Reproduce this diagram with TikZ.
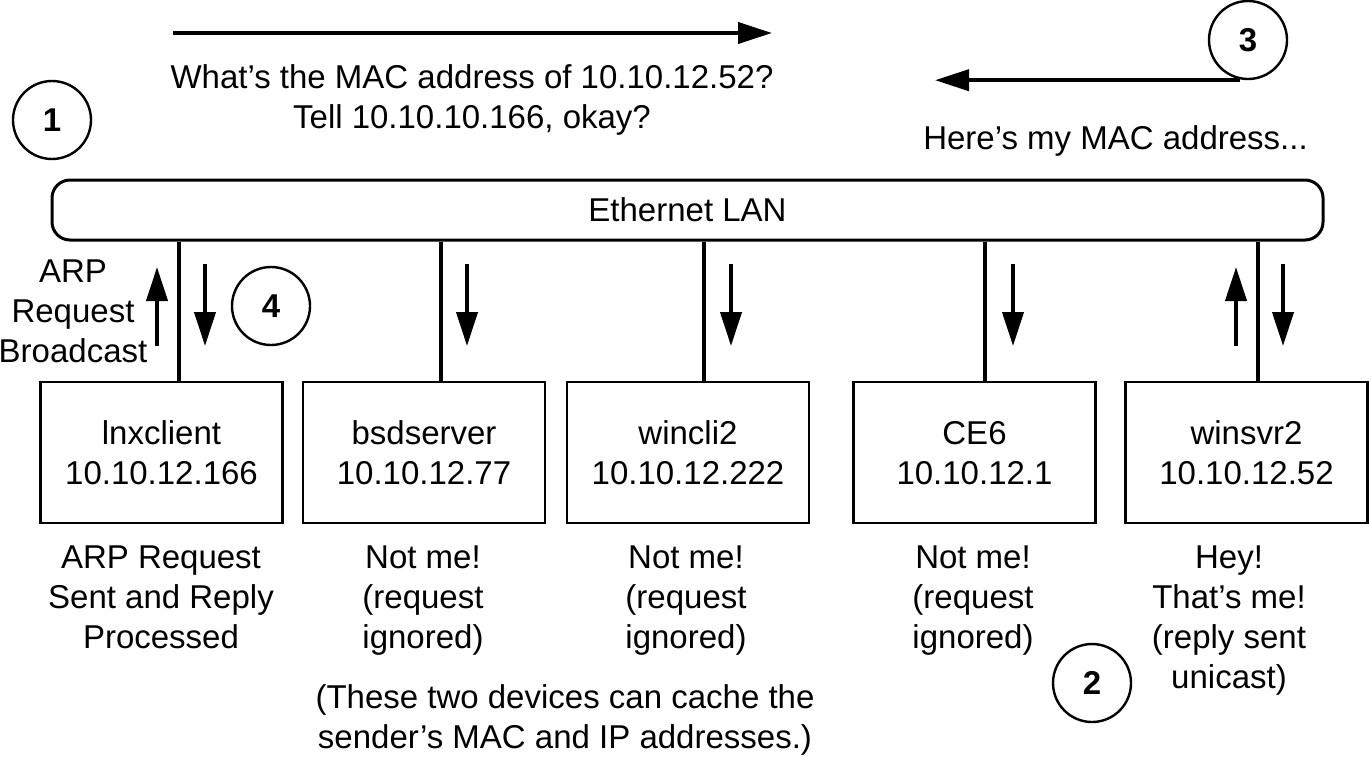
\documentclass[tikz,border=0pt]{standalone}
\usepackage{fontspec}
\setmainfont{Liberation Sans}
\usetikzlibrary{arrows.meta}
\newcommand{\tallstrut}{\rule{0pt}{18pt}}
\begin{document}
\begin{tikzpicture}[x=0.5pt,y=-0.5pt,
 txt/.style={font=\fontsize{16.5}{20}\selectfont, align=center, inner sep=0pt},
 num/.style={draw, circle, line width=1.2pt, minimum size=39pt, inner sep=0pt, font=\fontsize{16.5}{19}\selectfont\bfseries},
 host/.style={draw, line width=1.3pt, minimum width=121pt, minimum height=70.5pt, inner sep=0pt, txt},
 dropline/.style={line width=1.6pt},
 arr/.style={line width=2pt, -{Triangle[length=17pt,width=10.5pt]}},
]
\useasboundingbox (0,0) rectangle (1369,756);

% LAN
\node[draw, line width=1.5pt, rounded corners=9pt, minimum width=635.5pt, minimum height=30pt, txt] (lan) at (687.5,210) {Ethernet LAN};

% hosts
\node[host] (b1) at (161.5,452.5) {\tallstrut lnxclient\\\strut 10.10.12.166};
\node[host] (b2) at (424,452.5) {\tallstrut bsdserver\\\strut 10.10.12.77};
\node[host] (b3) at (688,452.5) {\tallstrut wincli2\\\strut 10.10.12.222};
\node[host] (b4) at (974.5,452.5) {\tallstrut CE6\\\strut 10.10.12.1};
\node[host] (b5) at (1246.5,452.5) {\tallstrut winsvr2\\\strut 10.10.12.52};

% drops
\coordinate (d1) at (179,0);
\coordinate (d2) at (441,0);
\coordinate (d3) at (704,0);
\coordinate (d4) at (985,0);
\coordinate (d5) at (1258,0);
\draw[dropline] (lan.south -| d1) -- (b1.north -| d1);
\draw[dropline] (lan.south -| d2) -- (b2.north -| d2);
\draw[dropline] (lan.south -| d3) -- (b3.north -| d3);
\draw[dropline] (lan.south -| d4) -- (b4.north -| d4);
\draw[dropline] (lan.south -| d5) -- (b5.north -| d5);

% captions below
\node[txt] (t1) at (161,600) {\strut ARP Request\\\strut Sent and Reply\\\strut Processed};
\node[txt] (t2) at (423,600) {\strut Not me!\\\strut (request\\\strut ignored)};
\node[txt] (t3) at (686,600) {\strut Not me!\\\strut (request\\\strut ignored)};
\node[txt] (t4) at (973,600) {\strut Not me!\\\strut (request\\\strut ignored)};
\node[txt] (t5) at (1229,620) {\strut Hey!\\\strut That’s me!\\\strut (reply sent\\\strut unicast)};
\node[txt] (cache) at (565,720) {\strut (These two devices can cache the\\\strut sender’s MAC and IP addresses.)};

% top texts
\node[txt] (q) at (472,100) {\strut What’s the MAC address of 10.10.12.52?\\\strut Tell 10.10.10.166, okay?};
\node[txt] (r) at (1115.5,141) {\strut Here’s my MAC address...};
\node[txt] (bc) at (73,314) {\strut ARP\\\strut Request\\\strut Broadcast};

% numbered circles
\node[num] (c1) at (52,120) {1};
\node[num] (c2) at (1092,683) {2};
\node[num] (c3) at (1248,40) {3};
\node[num] (c4) at (271,306) {4};

% big arrows
\coordinate (qs) at (173,33);
\coordinate (qe) at (772,33);
\draw[arr] (qs) -- (qe);
\coordinate (re) at (935,77);
\draw[arr] ([xshift=-4pt]c3.south) -- (re |- c3.south);

% small vertical arrows
\coordinate (u1s) at (157,346); \coordinate (u1e) at (157,267);
\draw[arr] (u1s) -- (u1e);
\coordinate (v1s) at (205,264); \coordinate (v1e) at (205,346);
\draw[arr] (v1s) -- (v1e);
\coordinate (v2s) at (467,264); \coordinate (v2e) at (467,346);
\draw[arr] (v2s) -- (v2e);
\coordinate (v3s) at (731,264); \coordinate (v3e) at (731,346);
\draw[arr] (v3s) -- (v3e);
\coordinate (v4s) at (1013,264); \coordinate (v4e) at (1013,346);
\draw[arr] (v4s) -- (v4e);
\coordinate (u5s) at (1236,346); \coordinate (u5e) at (1236,267);
\draw[arr] (u5s) -- (u5e);
\coordinate (v5s) at (1283,264); \coordinate (v5e) at (1283,346);
\draw[arr] (v5s) -- (v5e);
\end{tikzpicture}
\end{document}
